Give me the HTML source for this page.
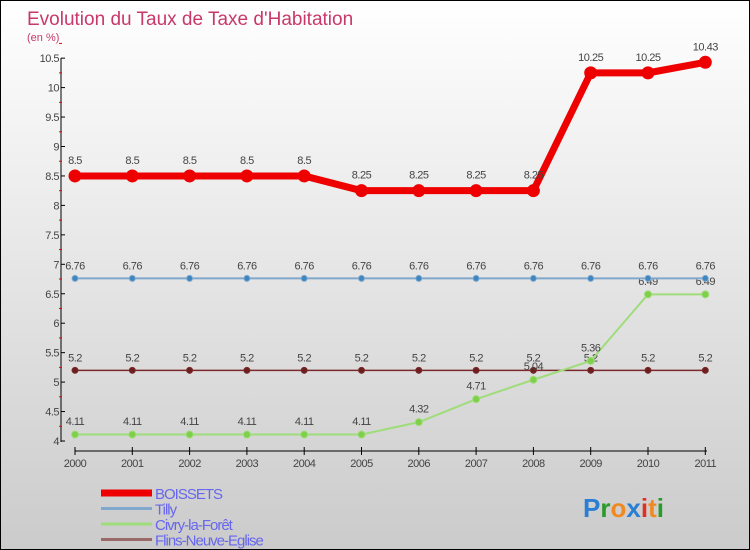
<!DOCTYPE html>
<html><head><meta charset="utf-8"><style>
body{margin:0}
#c{width:748px;height:548px;border:1px solid #000;background:linear-gradient(#fff,#cbcbcb);position:relative;font-family:"Liberation Sans",sans-serif;overflow:hidden}
</style></head><body>
<div id="c">
<svg id="s" width="748" height="548"></svg>
</div>
<script>
const years=["2000","2001","2002","2003","2004","2005","2006","2007","2008","2009","2010","2011"];
const boissets=[8.5,8.5,8.5,8.5,8.5,8.25,8.25,8.25,8.25,10.25,10.25,10.43];
const tilly=[6.76,6.76,6.76,6.76,6.76,6.76,6.76,6.76,6.76,6.76,6.76,6.76];
const civry=[4.11,4.11,4.11,4.11,4.11,4.11,4.32,4.71,5.04,5.36,6.49,6.49];
const flins=[5.2,5.2,5.2,5.2,5.2,5.2,5.2,5.2,5.2,5.2,5.2,5.2];
const yTicks=[4,4.5,5,5.5,6,6.5,7,7.5,8,8.5,9,9.5,10,10.5];
const NS="http://www.w3.org/2000/svg";const s=document.getElementById('s');
function X(i){return 74+i*57.3;}
function Y(v){return 440-(v-4)*58.9;}
function el(t,a,txt){const e=document.createElementNS(NS,t);for(const k in a)e.setAttribute(k,a[k]);if(txt!==undefined)e.textContent=txt;s.appendChild(e);return e;}
let e;
e=el('text',{x:26,y:24,'font-size':19,fill:'#c8386a'},"Evolution du Taux de Taxe d'Habitation");

e=el('text',{x:26,y:40,'font-size':11,fill:'#c8386a'},"(en %)");

e=el('line',{x1:60,y1:57,x2:60,y2:441,stroke:'#000'});

yTicks.forEach(v=>{
 e=el('line',{x1:60,y1:Y(v),x2:64,y2:Y(v),stroke:'#000'});
 
 e=el('line',{x1:58,y1:Y(v+0.25),x2:61,y2:Y(v+0.25),stroke:'#e00'});
 
 e=el('text',{x:58,y:Y(v)+4,'font-size':11,fill:'#444','text-anchor':'end','letter-spacing':'-0.5'},String(v));
 
});
e=el('line',{x1:74,y1:450,x2:706,y2:450,stroke:'#000'});

years.forEach((y,i)=>{
 e=el('line',{x1:X(i),y1:446,x2:X(i),y2:454,stroke:'#000'});
 
 e=el('text',{x:X(i),y:466,'font-size':11,fill:'#444','text-anchor':'middle','letter-spacing':'-0.5'},y);
 
});
function series(d,col,w,r,name,fcol){
 e=el('polyline',{points:d.map((v,i)=>X(i)+','+Y(v)).join(' '),fill:'none',stroke:col,'stroke-width':w,'stroke-linejoin':'round'});
 
 d.forEach((v,i)=>{
  e=el('circle',{cx:X(i),cy:Y(v),r:r,fill:fcol,stroke:col,'stroke-width':1});
  
  e=el('text',{x:X(i),y:Y(v)-(r+6),'font-size':11,fill:'#444','text-anchor':'middle','letter-spacing':'-0.5'},String(v));
  
 });
}
series(flins,'#7a2a2a',1.5,3,'flins','#6b1f1f');
series(civry,'#9fdc7a',2,3.5,'civry','#7ed04a');
series(tilly,'#7fa8cc',2,3,'tilly','#3d86c2');
series(boissets,'#ee0000',7,6,'boissets','#ee0000');
const leg=[["BOISSETS","#ee0000",7],["Tilly","#7fa8cc",3],["Civry-la-Forêt","#9fdc7a",3],["Flins-Neuve-Eglise","#9a6a6a",3]];
leg.forEach((l,i)=>{
 const y=492+i*15.5;
 e=el('line',{x1:100,y1:y,x2:151,y2:y,stroke:l[1],'stroke-width':l[2]});
 
 e=el('text',{x:154,y:y+6,'font-size':15,fill:'#6666ee','letter-spacing':'-1'},l[0]);
 
});
e=el('text',{x:582,y:516,'font-size':26,'font-weight':'bold'});

[["P","#2a7fd4"],["r","#2a9a2a"],["o","#f08a20"],["x","#2a7fd4"],["i","#e03020"],["t","#f08a20"],["i","#2a9a2a"]].forEach(p=>{const t=document.createElementNS(NS,'tspan');t.setAttribute('fill',p[1]);t.textContent=p[0];e.appendChild(t);});
</script>
</body></html>
